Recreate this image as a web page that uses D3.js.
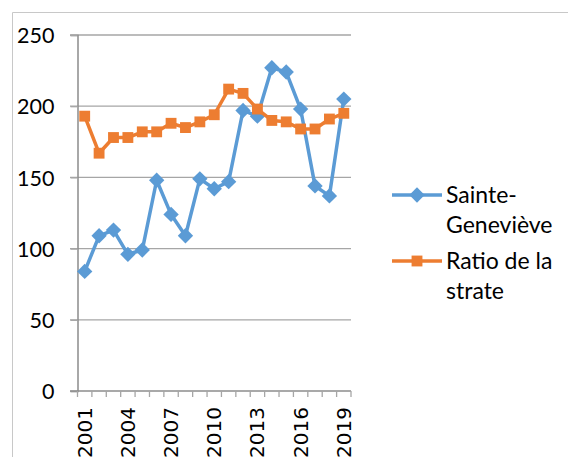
<!DOCTYPE html>
<html>
<head>
<meta charset="utf-8">
<script src="https://cdn.jsdelivr.net/npm/d3@7"></script>
<style>
  body { margin: 0; background: #fff; }
  svg { display: block; }
</style>
</head>
<body>
<svg width="568" height="457"></svg>
<script>
// years on the category axis
const years = d3.range(2001, 2020).map(String);
const tickYears = ["2001", "2004", "2007", "2010", "2013", "2016", "2019"];
const yTicks = [0, 50, 100, 150, 200, 250];

// Sainte-Geneviève
const sainteGenevieve = [84, 109, 113, 96, 99, 148, 124, 109, 149, 142, 147, 197, 193, 227, 224, 198, 144, 137, 205];
// Ratio de la strate
const ratioStrate = [193, 167, 178, 178, 182, 182, 188, 185, 189, 194, 212, 209, 198, 190, 189, 184, 184, 191, 195];

const seriesNames = ["Sainte-Geneviève", "Ratio de la strate"];
const colors = ["#5B9BD5", "#ED7D31"];

const svg = d3.select("svg");

// outer chart frame (only top and left visible)
svg.append("path")
  .attr("d", "M12.5,470 V12.5 H580")
  .attr("fill", "none")
  .attr("stroke", "#c8c8c8")
  .attr("stroke-width", 1);

const x = d3.scaleBand().domain(years).range([77.5, 351]);
const y = d3.scaleLinear().domain([0, 250]).range([391, 35]);

// gridlines
svg.append("g")
  .selectAll("line")
  .data(yTicks.filter(d => d > 0))
  .enter()
  .append("line")
  .attr("x1", 70).attr("x2", 351)
  .attr("y1", d => y(d)).attr("y2", d => y(d))
  .attr("stroke", "#a6a6a6")
  .attr("stroke-width", 1.3);

// y axis
const yAxis = svg.append("g")
  .attr("transform", "translate(77.5,0)")
  .call(d3.axisLeft(y).tickValues(yTicks).tickSize(7).tickPadding(16));
yAxis.select(".domain").attr("stroke", "#8c8c8c").attr("stroke-width", 1.5);
yAxis.selectAll(".tick line").attr("stroke", "#a6a6a6").attr("stroke-width", 1.3);
yAxis.selectAll("text")
  .attr("fill", "#000")
  .style("font-family", "Lato, 'Open Sans', sans-serif")
  .style("font-size", "21.5px")
  .attr("dy", "0.36em");

// x axis baseline + boundary ticks
const xg = svg.append("g");
xg.append("line")
  .attr("x1", 70).attr("x2", 351)
  .attr("y1", y(0)).attr("y2", y(0))
  .attr("stroke", "#8c8c8c").attr("stroke-width", 1.5);
xg.selectAll("line.tk")
  .data(years.concat(["end"]))
  .enter()
  .append("line")
  .attr("class", "tk")
  .attr("x1", (d, i) => x.range()[0] + i * x.step())
  .attr("x2", (d, i) => x.range()[0] + i * x.step())
  .attr("y1", y(0)).attr("y2", y(0) + 6)
  .attr("stroke", "#a6a6a6").attr("stroke-width", 1.3);
xg.selectAll("text")
  .data(tickYears)
  .enter()
  .append("text")
  .attr("transform", d => `translate(${x(d) + x.bandwidth() / 2 + 7},407) rotate(-90)`)
  .attr("text-anchor", "end")
  .style("font-family", "'DejaVu Sans', sans-serif")
  .style("font-size", "20px")
  .text(d => d);

const line = d3.line()
  .x((d, i) => x(years[i]) + x.bandwidth() / 2)
  .y(d => y(d));

const diamond = d3.symbol().type(d3.symbolDiamond2).size(150);
const square = d3.symbol().type(d3.symbolSquare2).size(150);

[sainteGenevieve, ratioStrate].forEach((vals, k) => {
  svg.append("path")
    .datum(vals)
    .attr("d", line)
    .attr("fill", "none")
    .attr("stroke", colors[k])
    .attr("stroke-width", 3.5)
    .attr("stroke-linejoin", "round");
  svg.append("g")
    .selectAll("path")
    .data(vals)
    .enter()
    .append("path")
    .attr("d", k === 0 ? diamond() : square())
    .attr("transform", (d, i) => `translate(${x(years[i]) + x.bandwidth() / 2},${y(d)})`)
    .attr("fill", colors[k]);
});

// legend
const legendLines = [["Sainte-", "Geneviève"], ["Ratio de la", "strate"]];
const legend = svg.append("g");
legendLines.forEach((lines, k) => {
  const ly = 195 + k * 66;
  legend.append("line")
    .attr("x1", 392).attr("x2", 442)
    .attr("y1", ly).attr("y2", ly)
    .attr("stroke", colors[k]).attr("stroke-width", 3.5);
  legend.append("path")
    .attr("d", k === 0 ? diamond() : square())
    .attr("transform", `translate(417,${ly})`)
    .attr("fill", colors[k]);
  lines.forEach((t, j) => {
    legend.append("text")
      .attr("x", 446)
      .attr("y", ly + 8 + j * 30)
      .style("font-family", "Lato, 'Open Sans', sans-serif")
      .style("font-size", "23px")
      .text(t);
  });
});
</script>
</body>
</html>
